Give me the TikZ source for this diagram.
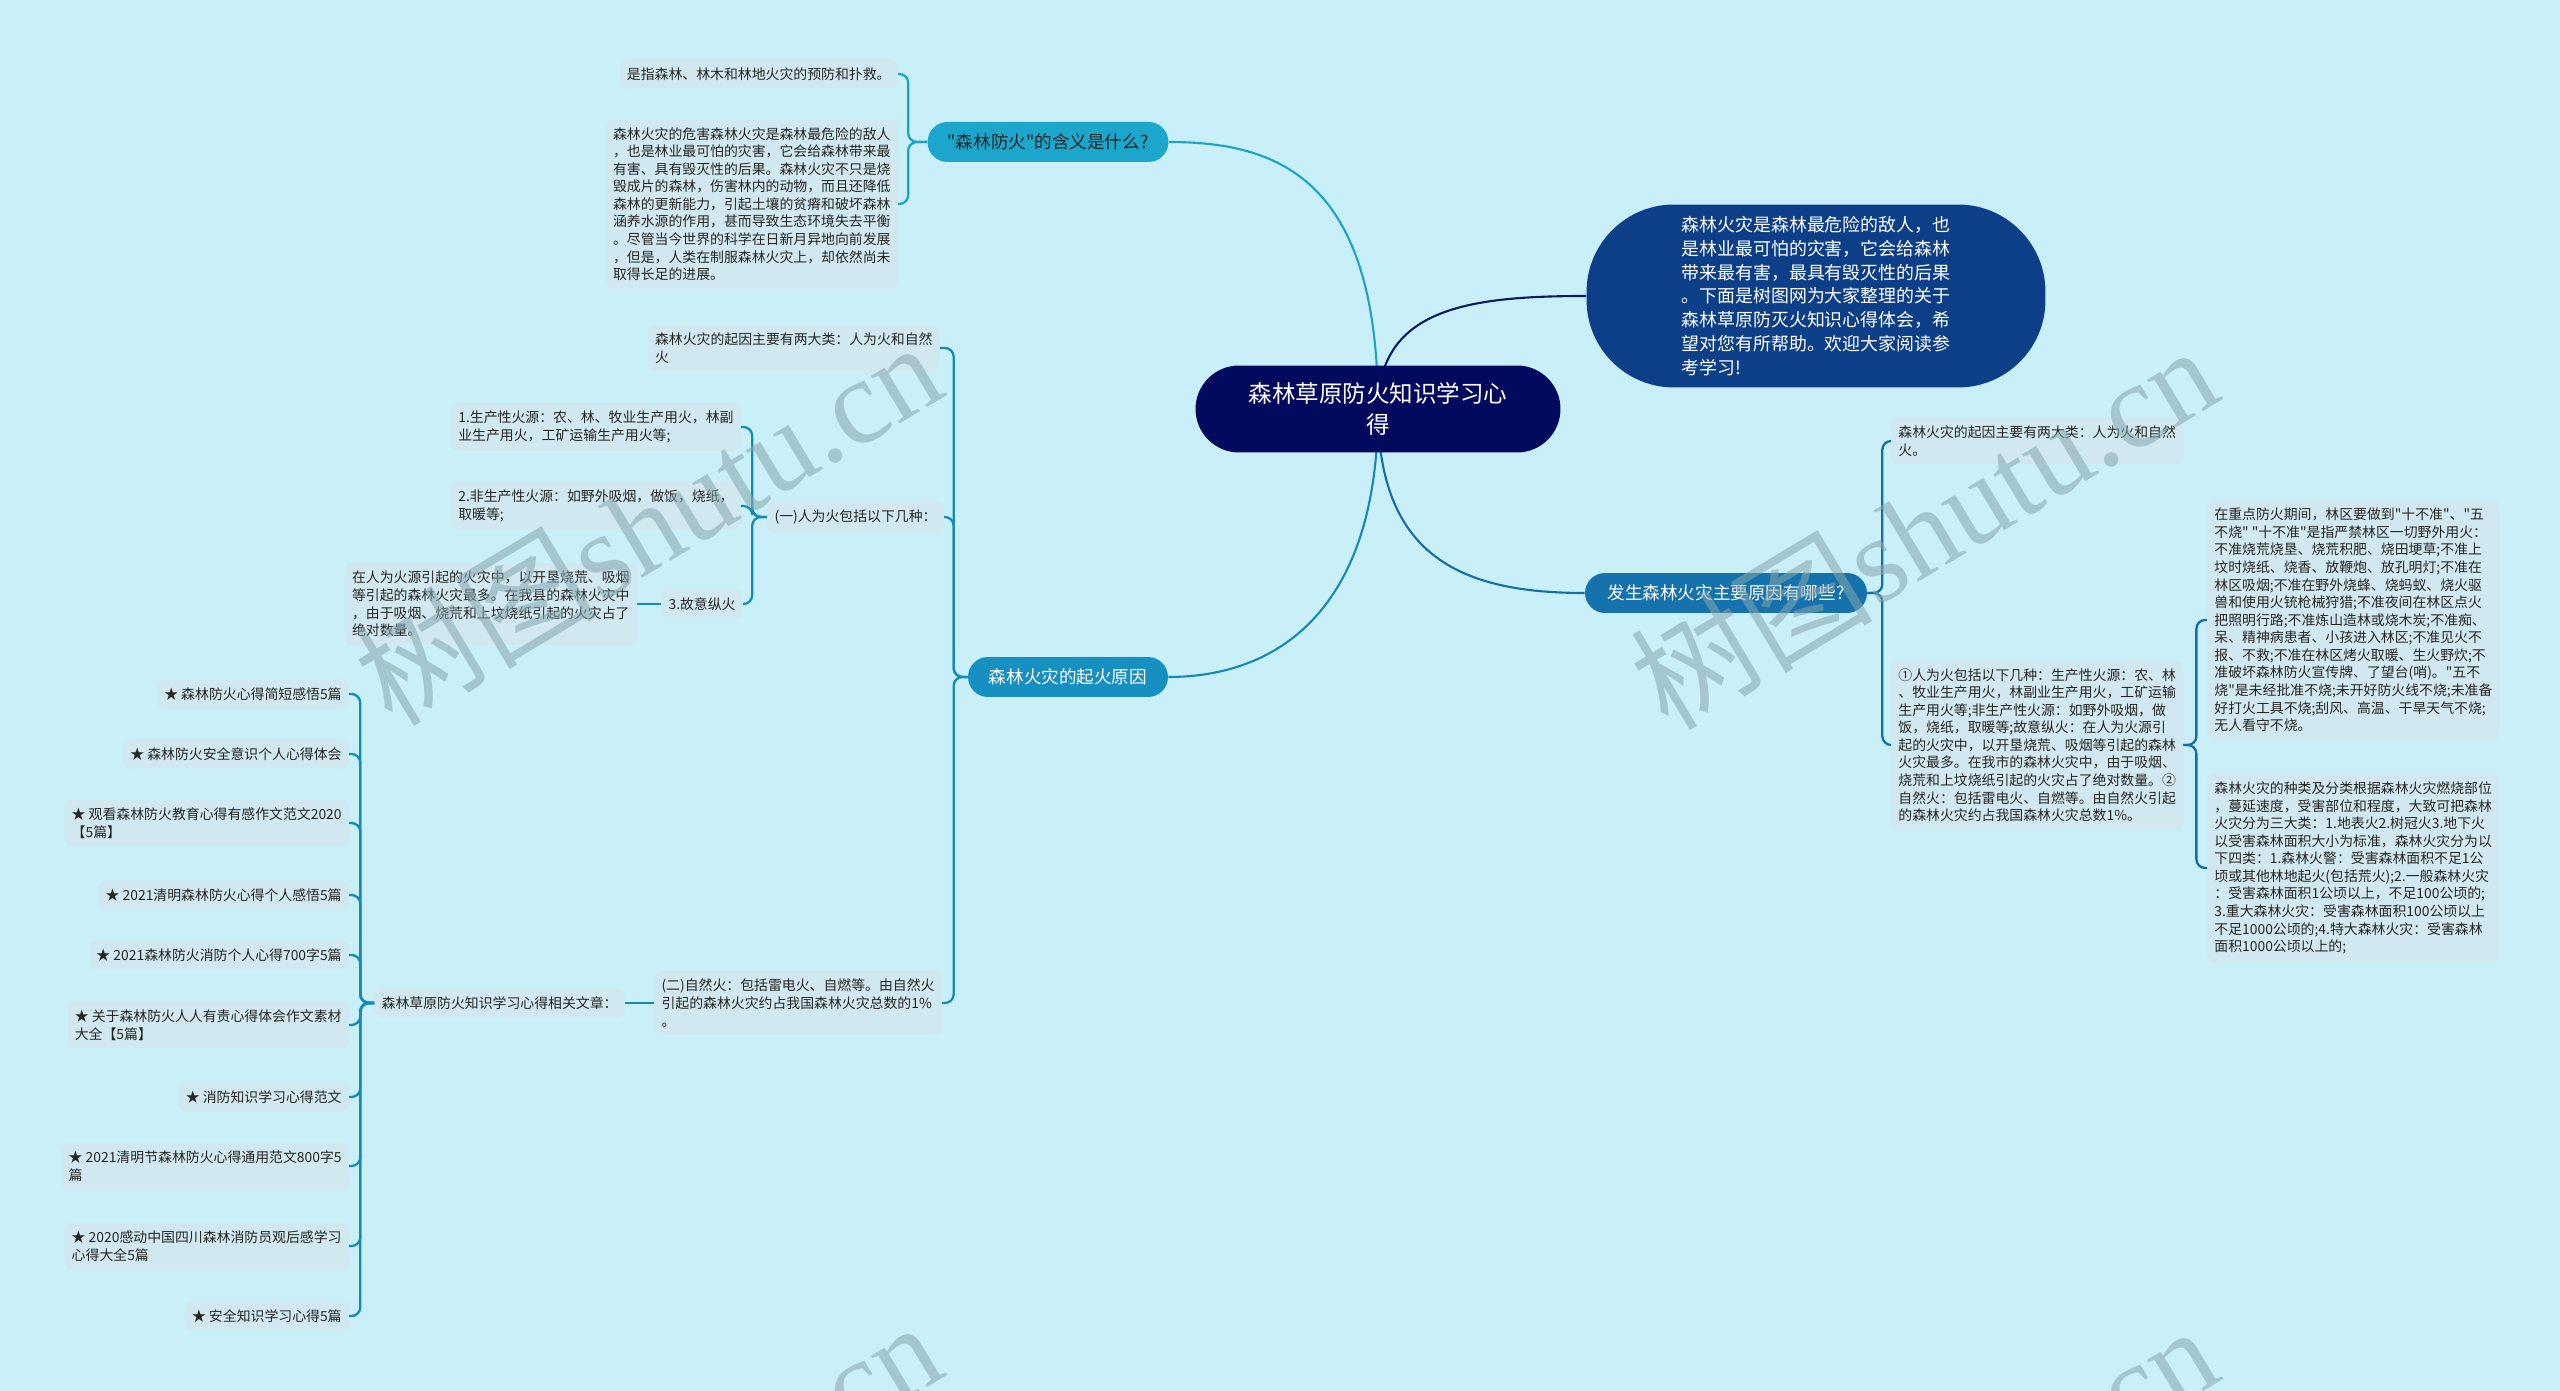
\documentclass[tikz,border=0pt]{standalone}
\usepackage{fontspec}
\setmainfont{Noto Sans CJK SC}[Ligatures=TeXOff]
\newfontfamily\wmserif{Liberation Serif}

\definecolor{bgc}{HTML}{C9EFF8}
\definecolor{leaf}{HTML}{D1E8F0}
\definecolor{navy}{HTML}{020A5E}
\definecolor{introc}{HTML}{0D3F88}
\definecolor{cyanb}{HTML}{1CA6CB}
\definecolor{tealb}{HTML}{1690C0}
\definecolor{blueb}{HTML}{1572AC}
\definecolor{lcyan}{HTML}{1BA3C8}
\definecolor{lteal}{HTML}{1589B8}
\definecolor{lblue}{HTML}{156DA5}
\definecolor{lnavy}{HTML}{0B1C5E}
\definecolor{wmc}{HTML}{86A7AF}

\pgfdeclarelayer{back}
\pgfdeclarelayer{lines}
\pgfsetlayers{back,lines,main}

\begin{document}
\begin{tikzpicture}[x=0.02cm,y=-0.02cm,
  leafbox/.style={fill=leaf, rounded corners=4pt, inner xsep=4pt, inner ysep=4.5pt,
    align=left, font={\fontsize{7.9}{10}\selectfont}, text=black!85},
  topic/.style={rounded corners=0.4cm, minimum height=0.8cm, inner xsep=0pt,
    font={\fontsize{10}{12}\selectfont}},
  centralbox/.style={fill=navy, text=white, minimum width=7.3cm, minimum height=1.74cm,
    rounded corners=0.87cm, align=center, font={\fontsize{13.4}{18}\selectfont}},
  introbox/.style={fill=introc, text=white, minimum width=9.18cm, minimum height=3.66cm,
    rounded corners=1.75cm, align=left, font={\fontsize{10.2}{13.5}\selectfont}},
  conn/.style={line width=1.2pt},
  brc/.style={line width=1.3pt, rounded corners=5pt},
  wmark/.style={rotate=31, text=wmc, opacity=0.55, font={\fontsize{69}{69}\selectfont}}
]
\useasboundingbox (0,0) rectangle (2560,1391);
\begin{pgfonlayer}{back}
\fill[bgc] (0,0) rectangle (2560,1391);
\end{pgfonlayer}

% central and intro
\node[centralbox] (c) at (1378,409) {森林草原防火知识学习心\\得};
\node[introbox] (i) at (1816,296) {森林火灾是森林最危险的敌人，也\\是林业最可怕的灾害，它会给森林\\带来最有害，最具有毁灭性的后果\\。下面是树图网为大家整理的关于\\森林草原防灭火知识心得体会，希\\望对您有所帮助。欢迎大家阅读参\\考学习!};

% branch 1
\node[topic, fill=cyanb, text=black!85, minimum width=4.82cm] (f) at (1048,142) {"森林防火"的含义是什么?};
\node[leafbox, anchor=east] (fd1) at (898,74) {是指森林、林木和林地火灾的预防和扑救。};
\node[leafbox, anchor=east] (fd2) at (898,204) {森林火灾的危害森林火灾是森林最危险的敌人\\，也是林业最可怕的灾害，它会给森林带来最\\有害、具有毁灭性的后果。森林火灾不只是烧\\毁成片的森林，伤害林内的动物，而且还降低\\森林的更新能力，引起土壤的贫瘠和破坏森林\\涵养水源的作用，甚而导致生态环境失去平衡\\。尽管当今世界的科学在日新月异地向前发展\\，但是，人类在制服森林火灾上，却依然尚未\\取得长足的进展。};

% branch 2
\node[topic, fill=tealb, text=white, minimum width=4cm] (q) at (1068,677) {森林火灾的起火原因};
\node[leafbox, anchor=east] (q1) at (940,348) {森林火灾的起因主要有两大类：人为火和自然\\火};
\node[leafbox, anchor=east] (q2) at (944,517) {(一)人为火包括以下几种：};
\node[leafbox, anchor=east] (q3) at (942,1003) {(二)自然火：包括雷电火、自燃等。由自然火\\引起的森林火灾约占我国森林火灾总数的1\%\\。};
\node[leafbox, anchor=east] (q2a) at (741,427) {1.生产性火源：农、林、牧业生产用火，林副\\业生产用火，工矿运输生产用火等;};
\node[leafbox, anchor=east] (q2b) at (741,506) {2.非生产性火源：如野外吸烟，做饭，烧纸，\\取暖等;};
\node[leafbox, anchor=east] (q2c) at (743,604) {3.故意纵火};
\node[leafbox, anchor=east] (q2c1) at (637,604) {在人为火源引起的火灾中，以开垦烧荒、吸烟\\等引起的森林火灾最多。在我县的森林火灾中\\，由于吸烟、烧荒和上坟烧纸引起的火灾占了\\绝对数量。};
\node[leafbox, anchor=east] (q3a) at (625,1003) {森林草原防火知识学习心得相关文章：};
\node[leafbox, anchor=east] (s1) at (349,694) {★ 森林防火心得简短感悟5篇};
\node[leafbox, anchor=east] (s2) at (349,754) {★ 森林防火安全意识个人心得体会};
\node[leafbox, anchor=east] (s3) at (349,823) {★ 观看森林防火教育心得有感作文范文2020\\【5篇】};
\node[leafbox, anchor=east] (s4) at (349,895) {★ 2021清明森林防火心得个人感悟5篇};
\node[leafbox, anchor=east] (s5) at (349,955) {★ 2021森林防火消防个人心得700字5篇};
\node[leafbox, anchor=east] (s6) at (349,1025) {★ 关于森林防火人人有责心得体会作文素材\\大全【5篇】};
\node[leafbox, anchor=east] (s7) at (349,1097) {★ 消防知识学习心得范文};
\node[leafbox, anchor=east] (s8) at (349,1166) {★ 2021清明节森林防火心得通用范文800字5\\篇};
\node[leafbox, anchor=east] (s9) at (349,1246) {★ 2020感动中国四川森林消防员观后感学习\\心得大全5篇};
\node[leafbox, anchor=east] (s10) at (349,1316) {★ 安全知识学习心得5篇};

% branch 3
\node[topic, fill=blueb, text=white, minimum width=5.64cm] (r) at (1726,593) {发生森林火灾主要原因有哪些?};
\node[leafbox, anchor=west] (rA) at (1891,441) {森林火灾的起因主要有两大类：人为火和自然\\火。};
\node[leafbox, anchor=west] (rB) at (1891,745) {①人为火包括以下几种：生产性火源：农、林\\、牧业生产用火，林副业生产用火，工矿运输\\生产用火等;非生产性火源：如野外吸烟，做\\饭，烧纸，取暖等;故意纵火：在人为火源引\\起的火灾中，以开垦烧荒、吸烟等引起的森林\\火灾最多。在我市的森林火灾中，由于吸烟、\\烧荒和上坟烧纸引起的火灾占了绝对数量。②\\自然火：包括雷电火、自燃等。由自然火引起\\的森林火灾约占我国森林火灾总数1\%。};
\node[leafbox, anchor=west] (rB1) at (2207,620) {在重点防火期间，林区要做到"十不准"、"五\\不烧" "十不准"是指严禁林区一切野外用火：\\不准烧荒烧垦、烧荒积肥、烧田埂草;不准上\\坟时烧纸、烧香、放鞭炮、放孔明灯;不准在\\林区吸烟;不准在野外烧蜂、烧蚂蚁、烧火驱\\兽和使用火铳枪械狩猎;不准夜间在林区点火\\把照明行路;不准炼山造林或烧木炭;不准痴、\\呆、精神病患者、小孩进入林区;不准见火不\\报、不救;不准在林区烤火取暖、生火野炊;不\\准破坏森林防火宣传牌、了望台(哨)。"五不\\烧"是未经批准不烧;未开好防火线不烧;未准备\\好打火工具不烧;刮风、高温、干旱天气不烧;\\无人看守不烧。};
\node[leafbox, anchor=west] (rB2) at (2207,868) {森林火灾的种类及分类根据森林火灾燃烧部位\\，蔓延速度，受害部位和程度，大致可把森林\\火灾分为三大类：1.地表火2.树冠火3.地下火\\以受害森林面积大小为标准，森林火灾分为以\\下四类：1.森林火警：受害森林面积不足1公\\顷或其他林地起火(包括荒火);2.一般森林火灾\\：受害森林面积1公顷以上，不足100公顷的;\\3.重大森林火灾：受害森林面积100公顷以上\\不足1000公顷的;4.特大森林火灾：受害森林\\面积1000公顷以上的;};

\begin{pgfonlayer}{lines}
% main connectors
\draw[conn, lcyan] (c.center) .. controls +(0,-230) and +(110,0) .. (f.east);
\draw[conn, lnavy] (c.center) .. controls +(0,-100) and +(-120,0) .. (i.west);
\draw[conn, lteal] (c.center) .. controls +(0,200) and +(110,0) .. (q.east);
\draw[conn, lblue] (c.center) .. controls +(0,150) and +(-120,0) .. (r.west);
% branch 1 braces
\draw[brc, lcyan] (f.west) -- ++(-19,0) |- (fd1.east);
\draw[brc, lcyan] (f.west) -- ++(-19,0) |- (fd2.east);
% branch 2 braces
\draw[brc, lteal] (q.west) -- ++(-14,0) |- (q1.east);
\draw[brc, lteal] (q.west) -- ++(-14,0) |- (q2.east);
\draw[brc, lteal] (q.west) -- ++(-14,0) |- (q3.east);
\draw[brc, lteal] (q2.west) -- ++(-15,0) |- (q2a.east);
\draw[brc, lteal] (q2.west) -- ++(-15,0) |- (q2b.east);
\draw[brc, lteal] (q2.west) -- ++(-15,0) |- (q2c.east);
\draw[brc, lteal] (q2c.west) -- (q2c1.east);
\draw[brc, lteal] (q3.west) -- (q3a.east);
\foreach \k in {s1,s2,s3,s4,s5,s6,s7,s8,s9,s10}{
  \draw[brc, lteal] (q3a.west) -- ++(-14,0) |- (\k.east);
}
% branch 3 braces
\draw[brc, lblue] (r.east) -- ++(15,0) |- (rA.west);
\draw[brc, lblue] (r.east) -- ++(15,0) |- (rB.west);
\draw[brc, lblue] (rB.east) -- ++(13,0) |- (rB1.west);
\draw[brc, lblue] (rB.east) -- ++(13,0) |- (rB2.west);
\end{pgfonlayer}

% watermarks
\node[wmark] (w1) at (647,522) {树图{\wmserif shutu.cn}};
\node[wmark] (w2) at (1923,526) {树图{\wmserif shutu.cn}};
\node[wmark] (w3) at (647,1502) {树图{\wmserif shutu.cn}};
\node[wmark] (w4) at (1923,1506) {树图{\wmserif shutu.cn}};
\end{tikzpicture}
\end{document}
